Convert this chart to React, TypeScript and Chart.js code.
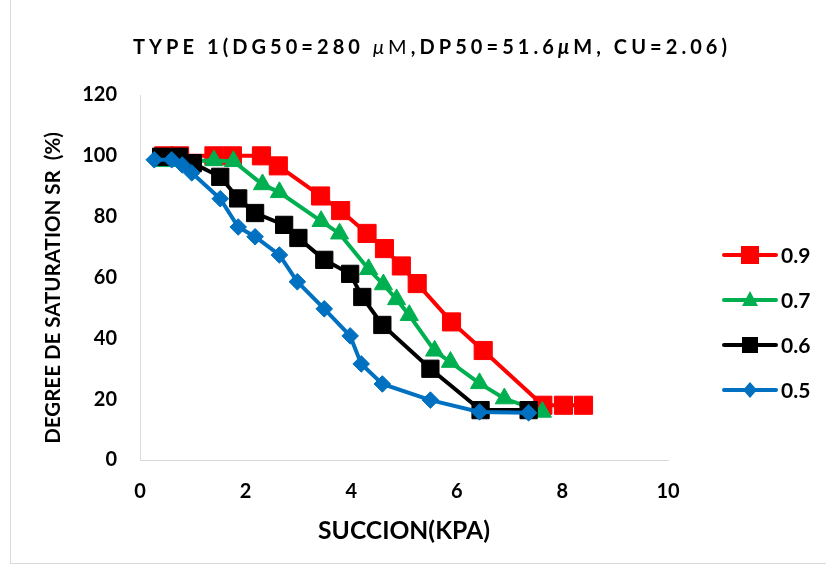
import React, { useEffect, useRef } from 'react';
import { Chart, registerables } from 'chart.js';

Chart.register(...registerables);

// ---------- data ----------
const xTickValues = [0, 2, 4, 6, 8, 10];
const yTickValues = [0, 20, 40, 60, 80, 100, 120];

const seriesLabels = ['0.9', '0.7', '0.6', '0.5'];
const seriesColors = ['#FF0000', '#00B050', '#000000', '#0070C0'];

const x09 = [0.45, 0.75, 1.4, 1.75, 2.3, 2.62, 3.42, 3.8, 4.3, 4.63, 4.95, 5.25, 5.9, 6.5, 7.63, 8.02, 8.4];
const y09 = [100, 100, 100, 100, 100, 96.7, 86.8, 82, 74.5, 69.5, 63.8, 58, 45.4, 36, 18, 18, 18];

const x07 = [0.45, 0.8, 1.4, 1.77, 2.32, 2.64, 3.43, 3.78, 4.33, 4.61, 4.86, 5.1, 5.58, 5.88, 6.43, 6.9, 7.62];
const y07 = [98.2, 98.2, 98.5, 98.2, 90.6, 88, 78.5, 74.4, 62.7, 57.7, 52.8, 47.6, 35.9, 32.2, 25.2, 20.2, 15.8];

const x06 = [0.4, 0.74, 1.0, 1.52, 1.86, 2.18, 2.73, 3.0, 3.49, 3.98, 4.21, 4.59, 5.5, 6.45, 7.36];
const y06 = [99.7, 99.7, 97.6, 93.1, 86, 81.2, 77.3, 73, 65.8, 61.2, 53.6, 44.4, 30, 16.4, 16.4];

const x05 = [0.27, 0.6, 0.8, 0.98, 1.52, 1.86, 2.18, 2.64, 2.98, 3.49, 3.98, 4.19, 4.59, 5.5, 6.43, 7.36];
const y05 = [98.7, 98.7, 97, 94.4, 85.9, 76.6, 73.4, 67.4, 58.6, 49.7, 40.8, 31.6, 25, 19.7, 15.8, 15.5];

// title pieces: [text, font style]
const titleParts: [string, string][] = [
  ['TYPE 1(DG50=280 ', 'bold'],
  ['\u03BC', 'italic'],
  ['M', 'normal'],
  [',DP50=51.6', 'bold'],
  ['\u03BC', 'italic bold'],
  ['M, CU=2.06)', 'bold'],
];
const xTitle = 'SUCCION(KPA)';
const yTitle = 'DEGREE DE SATURATION SR  (%)';

const FONT = "Lato, 'Open Sans', sans-serif";

const toPoints = (xs: number[], ys: number[]) => xs.map((x, i) => ({ x, y: ys[i] }));

const pointStyles = ['rect', 'triangle', 'rect', 'rectRot'];
const pointRadii = [12.8, 10.5, 12.2, 8.3];

function drawMarker(ctx: CanvasRenderingContext2D, style: string, x: number, y: number, color: string) {
  ctx.fillStyle = color;
  ctx.beginPath();
  if (style === 'rect18') {
    ctx.rect(x - 9, y - 9, 18, 18);
  } else if (style === 'rect') {
    ctx.rect(x - 8, y - 8, 16, 16);
  } else if (style === 'triangle') {
    ctx.moveTo(x, y - 9);
    ctx.lineTo(x + 8, y + 6);
    ctx.lineTo(x - 8, y + 6);
    ctx.closePath();
  } else {
    ctx.moveTo(x, y - 8);
    ctx.lineTo(x + 7, y);
    ctx.lineTo(x, y + 8);
    ctx.lineTo(x - 7, y);
    ctx.closePath();
  }
  ctx.fill();
}

const textPlugin = {
  id: 'customTexts',
  afterDraw(chart: any) {
    const ctx: CanvasRenderingContext2D = chart.ctx;
    ctx.save();
    ctx.fillStyle = '#000';

    // Title with letter spacing fitted to width
    const titleSize = 20;
    const titleW = 594;
    let nChars = 0;
    let w0 = 0;
    (ctx as any).letterSpacing = '0px';
    titleParts.forEach(([t, st]) => {
      ctx.font = `${st} ${titleSize}px ${FONT}`;
      w0 += ctx.measureText(t).width;
      nChars += t.length;
    });
    const ls = Math.max(0, (titleW - w0) / (nChars - 1));
    (ctx as any).letterSpacing = `${ls}px`;
    ctx.textAlign = 'left';
    ctx.textBaseline = 'middle';
    let tx = 430 - titleW / 2;
    titleParts.forEach(([t, st]) => {
      ctx.font = `${st} ${titleSize}px ${FONT}`;
      ctx.fillText(t, tx, 48);
      tx += ctx.measureText(t).width;
    });
    (ctx as any).letterSpacing = '0px';

    // X axis title
    ctx.font = `bold 20px ${FONT}`;
    let m = ctx.measureText(xTitle).width;
    let fs = (20 * 172) / m;
    ctx.font = `bold ${fs}px ${FONT}`;
    ctx.textAlign = 'center';
    ctx.fillText(xTitle, 404, 531);

    // Y axis title
    ctx.font = `bold 20px ${FONT}`;
    m = ctx.measureText(yTitle).width;
    fs = (20 * 312) / m;
    ctx.save();
    ctx.translate(53, 288);
    ctx.rotate(-Math.PI / 2);
    ctx.font = `bold ${fs}px ${FONT}`;
    ctx.textAlign = 'center';
    ctx.fillText(yTitle, 0, 0);
    ctx.restore();

    // Legend
    const legendY = [255, 300, 345, 390];
    const legendMarkers = ['rect18', 'triangle', 'rect', 'diamond'];
    seriesLabels.forEach((lab, i) => {
      const y = legendY[i];
      ctx.strokeStyle = seriesColors[i];
      ctx.lineWidth = 4;
      ctx.lineCap = 'round';
      ctx.beginPath();
      ctx.moveTo(724, y);
      ctx.lineTo(776, y);
      ctx.stroke();
      drawMarker(ctx, legendMarkers[i], 750, y, seriesColors[i]);
      ctx.fillStyle = '#000';
      ctx.font = `bold 21px ${FONT}`;
      ctx.textAlign = 'left';
      ctx.textBaseline = 'middle';
      ctx.fillText(lab, 781, y + 1);
    });
    ctx.restore();
  },
};

export default function App() {
  const canvasRef = useRef<HTMLCanvasElement>(null);

  useEffect(() => {
    const canvas = canvasRef.current;
    if (!canvas) return;
    const allX = [x09, x07, x06, x05];
    const allY = [y09, y07, y06, y05];
    const datasets = seriesLabels.map((label, i) => ({
      label,
      data: toPoints(allX[i], allY[i]),
      borderColor: seriesColors[i],
      backgroundColor: seriesColors[i],
      pointBackgroundColor: seriesColors[i],
      pointBorderColor: seriesColors[i],
      pointBorderWidth: 1,
      pointStyle: pointStyles[i],
      pointRadius: pointRadii[i],
      borderWidth: 4,
      tension: 0,
      showLine: true,
      order: 4 - i,
    }));

    const chart = new Chart(canvas, {
      type: 'scatter',
      data: { datasets },
      options: {
        responsive: false,
        animation: false,
        devicePixelRatio: 1,
        layout: { padding: { top: 95, right: 158, bottom: 0, left: 0 } },
        plugins: {
          legend: { display: false },
          title: { display: false },
          tooltip: { enabled: false },
        },
        scales: {
          x: {
            type: 'linear',
            min: 0,
            max: 10,
            afterBuildTicks: (scale: any) => {
              scale.ticks = xTickValues.map((v) => ({ value: v }));
            },
            afterFit: (scale: any) => {
              scale.height = 114;
            },
            grid: { display: false, drawTicks: false },
            border: { display: true, color: '#d9d9d9', width: 1 },
            ticks: {
              padding: 20,
              color: '#000',
              font: { family: FONT, size: 20, weight: 'bold' },
              maxRotation: 0,
            },
          },
          y: {
            type: 'linear',
            min: 0,
            max: 120,
            afterBuildTicks: (scale: any) => {
              scale.ticks = yTickValues.map((v) => ({ value: v }));
            },
            afterFit: (scale: any) => {
              scale.width = 140;
            },
            grid: { display: false, drawTicks: false },
            border: { display: true, color: '#d9d9d9', width: 1 },
            ticks: {
              padding: 23,
              color: '#000',
              font: { family: FONT, size: 20, weight: 'bold' },
            },
          },
        },
      },
      plugins: [textPlugin],
    } as any);

    return () => chart.destroy();
  }, []);

  return (
    <div style={{ position: 'absolute', left: 0, top: 0, width: 826, height: 574, overflow: 'hidden', background: '#fff' }}>
      <div
        style={{
          position: 'absolute',
          left: 10,
          top: -2,
          width: 830,
          height: 566,
          border: '1px solid #d9d9d9',
          boxSizing: 'border-box',
        }}
      />
      <canvas ref={canvasRef} width={826} height={574} style={{ position: 'absolute', left: 0, top: 0 }} />
    </div>
  );
}
